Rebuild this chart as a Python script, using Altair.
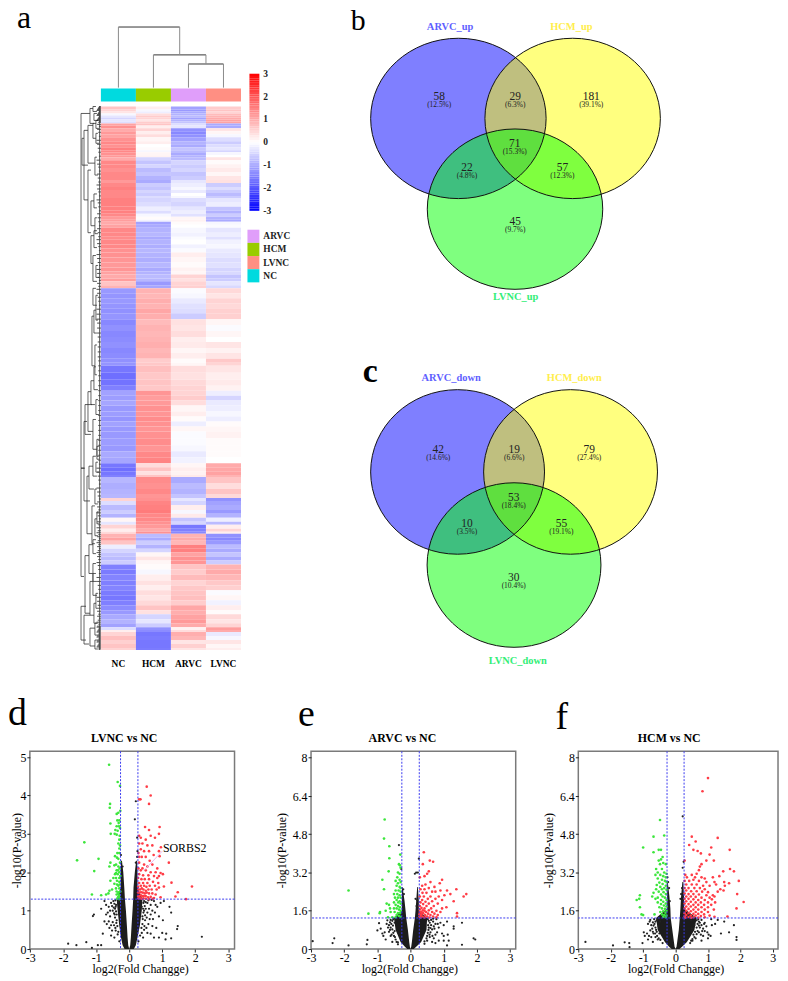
import altair as alt
import pandas as pd

SERIF = "Liberation Serif"
groups = ["NC", "HCM", "ARVC", "LVNC"]
group_colors = {"NC": "#00DADF", "HCM": "#99CC00", "ARVC": "#E09EFA", "LVNC": "#FF8F83"}
legend_order = ["ARVC", "HCM", "LVNC", "NC"]

heat_rows = [
 (0,.7,.2,-1.1,.6),(3,.5,-.1,-1.2,.7),(5,.3,-.2,-1.0,.5),(7,-.1,.4,-.9,.8),(9,-.3,.6,-.8,.9),(11,-.5,.5,-1.1,1.0),(13,-.3,.3,-.9,1.1),(15,-.4,.6,-.7,1.1),
 (17,1.1,.7,-.4,-1.0),(19,1.3,.2,-.3,-1.0),(22,1.0,.5,-1.3,.3),(25,1.2,.2,-1.4,.1),(28,1.1,.4,-1.3,-.1),(31,1.3,.1,-1.1,-.4),(35,1.4,.2,-.9,-.6),(38,1.3,.0,-1.0,-.4),
 (41,1.5,.05,-.7,-.3),(44,1.4,-.1,-.8,-.5),(46,1.3,.1,-1.0,-.1),(49,1.2,.15,-.9,.0),(51,1.0,-.5,-.8,.3),(54,1.4,-.7,-.5,.05),(58,1.4,-.5,-.6,.15),
 (62,1.3,-.8,-.5,.25),(66,1.4,-.7,-.7,.1),(70,1.4,-.9,-.6,.3),(74,1.2,-1.0,-.3,.35),(77,1.4,-.6,-.2,-.6),(81,1.5,-.7,-.1,-.4),(84,1.4,-.5,-.25,-.6),
 (87,1.4,-.6,.0,-.8),(90,1.4,-.4,-.1,-.6),(92,1.5,-.5,-.4,-.3),(96,1.5,-.4,-.5,-.2),(101,1.5,-.2,-.3,-.7),(105,1.5,-.4,-.2,-.9),(108,1.4,-.1,-.35,-.6),
 (111,1.2,.05,.1,-.9),(114,1.15,-.15,.15,-1.0),(116,1.0,-1.1,.05,-.1),(119,1.1,-1.0,.0,-.05),(122,1.4,-.9,-.1,-.3),(127,1.4,-.85,-.15,-.2),(131,1.35,-1.0,-.05,-.35),
 (134,1.4,-.9,.0,-.15),(139,1.4,-.95,-.15,-.1),(143,1.3,-.85,-.05,-.25),(147,1.3,-.9,.2,-.3),(152,1.25,-.95,.1,-.4),(157,1.2,-.85,.05,-.35),(162,1.25,-1.0,.15,-.5),
 (166,1.1,-.9,.1,-.45),(169,1.0,-.8,.5,-.7),(173,1.15,-.85,.35,-.6),(176,.7,-1.2,.5,-.3),(180,.9,-1.05,.55,-.45),
 (183,-1.2,.9,-.05,.45),(188,-1.25,.85,-.1,.3),(193,-1.2,.95,-.25,.5),(198,-1.25,.9,-.35,.45),(203,-1.3,1.05,-.4,.55),(208,-1.25,.95,-.6,.55),(214,-1.4,.8,.35,.1),
 (220,-1.3,.9,.3,-.05),(226,-1.4,.85,.4,.1),(232,-1.35,.9,.2,.0),(237,-1.3,.95,.25,.3),(243,-1.4,.85,.1,.15),(248,-1.35,.9,.2,.3),(254,-1.3,.6,.05,.65),
 (258,-1.25,.65,.1,.5),(261,-1.6,.75,.4,.3),(268,-1.7,.65,.35,.2),(275,-1.65,.7,.45,.25),(281,-1.5,.65,.5,.15),(286,-1.1,1.25,.5,-.2),(291,-1.15,1.15,.6,-.5),
 (296,-1.05,1.2,.4,-.25),(301,-1.2,1.3,.1,-.2),(307,-1.15,1.25,.2,-.1),(312,-1.25,1.35,.05,-.2),(317,-1.1,1.3,-.2,.05),(322,-1.2,1.25,.1,.1),(327,-1.2,1.3,-.05,.15),
 (334,-1.15,1.35,-.05,.05),(341,-1.2,1.25,-.1,.05),(347,-1.0,1.4,-.25,.05),(353,-1.05,1.45,-.15,.0),(359,-1.6,.4,.1,1.0),(363,-1.7,.7,.2,1.05),(367,-1.6,.35,.15,1.1),(371,-1.5,.7,.25,.9),
 (373,-.85,1.35,-1.0,.7),(379,-.95,1.3,-.8,.4),(385,-.9,1.4,-.9,.7),(390,-.85,1.25,-.7,.45),(394,.5,1.3,-.3,-1.3),(397,-.4,1.45,-.5,-1.1),(401,-.8,1.5,.2,-1.0),
 (406,-.6,1.55,-.1,-1.2),(410,-.9,1.4,.25,-.9),(414,.1,1.4,-.7,-.2),(418,-.3,1.3,-.5,-.8),(421,.5,1.2,-1.6,.2),(425,.2,1.0,-1.5,.5),(428,.45,1.3,-1.4,.2),
 (430,.9,-.8,.9,-1.3),(434,1.1,-1.0,1.0,-1.4),(437,.7,-.6,.85,-1.2),(441,-.2,-.9,1.5,-.8),(445,-.5,-.5,1.5,-1.0),(449,-.7,.1,1.1,-.7),(453,-.8,.3,1.3,-1.0),(457,-.6,.1,1.25,-.6),
 (461,-1.5,.05,.7,.9),(466,-1.55,-.1,.6,1.0),(471,-1.45,.2,.8,.85),(477,-1.5,.35,.5,.65),(482,-1.45,.2,.65,.55),(487,-1.55,.4,.7,-.05),(492,-1.6,.3,.75,.1),(497,-1.5,.45,.6,-.15),
 (502,-1.35,.7,1.05,.2),(507,-1.2,.35,.95,.05),(511,-1.0,-.5,1.1,.45),(516,-.9,-.3,1.2,.3),(520,-1.1,-.6,1.0,.5),(524,-.4,-1.3,.15,1.15),(527,.2,-1.35,.4,1.0),
 (529,.5,-1.6,.95,-.25),(533,.75,-1.55,.85,-.1),(537,.55,-1.6,.3,.3),(541,.7,-1.6,.55,.1),(545,.5,-1.55,.3,.2),
]
heat_end = 547

cbar_levels = [round(-3 + i * 0.1, 1) for i in range(61)]
cbar_ticks = [3, 2, 1, 0, -1, -2, -3]

col_links = [(2.5, 3.5, .39, 0, 0), (1.5, 3.0, .54, 0, .39), (.5, 2.25, 1.0, 0, .54)]

row_brackets = [
 (20,7,364,11,16),(11,2,17,8,7),(8,0,5,5,4),(7,7,14,4,3),(19,32,59,17,13),(17,24,94,13,13),(13,19,57,8,6),(8,17,32,5,5),(5,14,22,3,2),(5,27,37,3,2),
 (6,51,69,4,3),(13,64,127,10,10),(10,95,120,7,6),(7,88,102,4,4),(6,112,128,4,3),(10,130,158,7,8),(7,125,142,4,4),(8,150,176,5,4),(5,160,172,3,2),
 (8,183,200,5,4),(9,211,261,7,6),(7,205,228,5,4),(6,240,270,4,4),(5,190,215,3,3),(16,300,330,9,10),(13,287,327,10,8),(10,276,300,7,6),(8,315,345,5,4),
 (7,262,285,5,3),(5,295,310,3,2),(4,335,355,2,2),
 (20,364,473,17,17),(17,317,397,14,11),(14,372,430,12,9),(12,362,385,8,7),(9,402,440,6,6),(8,352,372,5,4),(6,385,400,4,3),(6,415,432,4,3),
 (20,503,537,15,15),(16,452,510,12,11),(12,441,470,8,8),(8,436,450,5,5),(8,460,478,5,4),(11,478,512,8,7),(8,470,492,5,4),(7,500,520,5,4),
 (17,512,541,11,12),(11,525,543,6,6),(6,520,532,3,3),(6,537,546,3,3),(5,490,505,3,2),(5,358,368,3,2),(4,342,352,2,2),(4,408,420,2,2),
]
leaf_rows = [0,1,2,3,4,5,6,7,8,9,10,11,12,13,14,15,16,18,20,23,26,30,34,38,42,46,50,54,58,61,65,68,72,76,79,83,86,90,94,97,101,105,108,112,116,120,123,127,131,134,138,141,145,149,153,157,160,164,168,172,175,178,181,184,188,192,196,200,204,209,214,218,223,228,232,237,242,247,252,256,261,266,271,276,281,286,291,296,301,306,311,316,321,326,331,336,341,346,351,356,360,364,368,372,376,380,384,388,392,395,398,400,403,406,409,412,415,418,421,424,427,429,431,433,435,437,439,441,443,445,447,449,451,453,456,459,462,466,470,474,478,482,486,490,494,498,502,505,508,511,513,515,517,519,521,523,524,525,526,527,528,529,530,531,532,533,534,535,536,537,538,539,540,541,542,543,544,545,546]

venn_up_names = ["ARVC_up", "HCM_up", "LVNC_up"]
venn_up_counts = [58, 29, 181, 71, 22, 57, 45]
venn_up_pcts = ["(12.5%)", "(6.3%)", "(39.1%)", "(15.3%)", "(4.8%)", "(12.3%)", "(9.7%)"]
venn_down_names = ["ARVC_down", "HCM_down", "LVNC_down"]
venn_down_counts = [42, 19, 79, 53, 10, 55, 30]
venn_down_pcts = ["(14.6%)", "(6.6%)", "(27.4%)", "(18.4%)", "(3.5%)", "(19.1%)", "(10.4%)"]

lvnc_green = [(-.61,4.8),(-.35,4.35),(-.28,4.25),(-.58,3.78),(-.59,3.68),(-.27,3.6),(-.33,3.55),(-.38,3.52),(-.3,3.35),(-.36,3.35),(-.32,3.28),(-.57,3.27),(-.38,3.2),(-.31,3.2),(-.28,3.15),(-.42,3.1),(-.35,3.08),(-.56,3.0),(-.44,3.0),(-.38,2.98),(-.29,2.95),(-.3,2.85),(-.33,2.75),(-.28,2.7),(-.3,2.62),(-.36,2.5),(-.3,2.5),(-.43,2.42),(-.37,2.38),(-.33,2.35),(-1.36,2.78),(-1.58,2.31),(-.93,2.35),(-1.06,2.03),(-.57,2.25),(-.6,2.15),(-.45,2.18),(-.4,2.2),(-.33,2.15),(-.29,2.1),(-.38,2.05),(-.3,2.0),(-.43,1.95),(-.35,1.95),(-.48,1.85),(-.4,1.85),(-.3,1.85),(-.57,1.78),(-.37,1.78),(-.3,1.75),(-.45,1.7),(-.37,1.68),(-.33,1.65),(-.52,1.55),(-.4,1.58),(-.3,1.58),(-.6,1.52),(-.38,1.5),(-.32,1.48),(-1.13,1.42),(-.85,1.4),(-.7,1.42),(-.63,1.45),(-.38,1.42),(-.3,1.4),(-.34,1.35),(-.28,1.33),(-.3,1.3),(-.36,1.31),(-.33,1.45),(-.27,1.5),(-.29,1.68),(-.27,1.9),(-.34,2.05),(-.28,2.25),(-.4,1.98),(-.31,1.38)]
lvnc_red = [(.53,4.23),(.65,4.0),(.6,3.78),(.3,3.9),(.34,3.9),(.48,3.18),(.92,3.18),(.6,3.1),(.9,3.0),(.3,2.95),(.35,2.9),(.5,2.85),(.65,2.95),(.78,2.9),(.3,2.75),(.4,2.75),(.55,2.7),(.7,2.7),(.96,2.65),(.35,2.6),(.28,2.5),(.45,2.55),(.6,2.55),(.9,2.55),(.74,2.45),(.92,2.42),(.3,2.4),(.38,2.4),(.5,2.4),(.62,2.3),(1.2,2.25),(.3,2.25),(.45,2.2),(.4,2.1),(.55,2.15),(.7,2.2),(.85,2.1),(.28,2.1),(.35,2.05),(.5,2.05),(.65,2.0),(.8,2.0),(.95,1.98),(1.02,1.95),(.9,1.9),(.75,1.9),(.58,1.92),(.42,1.92),(.3,1.95),(.27,1.85),(.37,1.82),(.47,1.82),(.6,1.82),(.85,1.85),(1.28,1.73),(1.05,1.63),(.88,1.72),(.72,1.75),(.55,1.72),(.42,1.72),(.3,1.72),(.27,1.62),(.35,1.65),(.45,1.65),(.52,1.62),(.62,1.65),(.78,1.65),(.9,1.6),(.28,1.55),(.33,1.55),(.38,1.58),(.43,1.55),(.5,1.52),(.58,1.55),(.68,1.55),(.83,1.55),(.27,1.47),(.31,1.47),(.36,1.48),(.41,1.47),(.47,1.45),(.53,1.47),(.6,1.45),(.7,1.45),(.8,1.42),(1.47,1.48),(1.4,1.37),(1.9,1.63),(1.72,1.3),(.27,1.38),(.31,1.38),(.35,1.4),(.39,1.38),(.44,1.38),(.5,1.38),(.57,1.35),(.65,1.36),(.75,1.33),(.95,1.35),(.28,1.32),(.33,1.32),(.38,1.31),(.43,1.32),(.5,1.31),(.6,1.3),(.71,1.31)]
lvnc_black = [(-1.85,.14),(-1.6,.1),(-1.3,.18),(-1.13,.03),(-1.1,.86),(-1.07,.9),(-.95,.1),(-.85,.1),(2.2,.32),(1.47,.6),(1.45,.52),(1.27,.28),(1.1,.25),(1.0,.42),(1.12,.4),(1.27,.95),(1.22,1.1),(.2,3.85),(.17,3.38),(-.28,2.5),(-.25,2.45),(.24,2.9),(.25,2.55),(.24,2.4),(.2,2.25),(-.2,2.15),(-.75,1.25),(-.7,1.15),(-.62,1.1),(-.55,1.2),(-.48,1.25),(-.85,1.05),(-.65,.95),(-.58,.85),(-.5,1.0),(-.44,.9),(-.75,.72),(-.68,.65),(-.6,.55),(-.5,.7),(-.42,.55),(-.8,.4),(-.55,.35),(-.45,.3),(-.38,.75),(-.4,1.15),(.45,1.25),(.55,1.2),(.65,1.15),(.75,1.25),(.85,1.1),(.95,1.2),(1.05,1.25),(.45,1.0),(.55,.95),(.65,.9),(.78,.95),(.9,.85),(1.02,.75),(.48,.75),(.58,.65),(.7,.6),(.82,.55),(.45,.5),(.55,.42),(.65,.4),(.75,.3),(.9,.3),(.4,.85),(.42,.3),(-.33,.45),(.33,.35),(-.3,.2),(.28,.2),(.38,1.1),(-.43,1.05),(-.33,1.22),
 (-.42,1.27),(-.45,1.18),(-.41,1.1),(-.47,1.08),(-.4,.98),(-.46,.93),(-.38,.9),(-.43,.82),(-.39,.68),(-.46,.62),(-.36,.6),(-.41,.48),(-.35,.38),(-.52,.48),(-.58,1.0),(-.62,.72),(-.55,.62),(-.7,.9),(-.52,1.12),(.43,1.2),(.47,1.12),(.42,1.05),(.5,1.05),(.43,.95),(.48,.88),(.41,.78),(.53,.82),(.4,.65),(.46,.6),(.37,.55),(.52,.55),(.38,.42),(.6,1.05),(.7,1.0),(.62,.78),(.72,.78),(.8,1.15),(.58,1.27),(.68,1.28),(.5,1.22)]
arvc_green = [(-.78,5.42),(-.8,4.62),(-.64,4.3),(-.64,3.8),(-.31,3.95),(-.35,3.55),(-.32,3.5),(-.3,3.4),(-.66,3.25),(-.38,3.2),(-.33,3.15),(-.85,2.9),(-.4,3.0),(-.33,2.9),(-.45,2.85),(-.3,2.8),(-.8,2.5),(-1.87,2.45),(-.38,2.75),(-.42,2.65),(-.33,2.6),(-.3,2.55),(-.45,2.45),(-.36,2.45),(-.3,2.4),(-.5,2.3),(-.4,2.3),(-.33,2.25),(-.47,2.15),(-.38,2.15),(-.3,2.15),(-.42,2.05),(-.33,2.0),(-.5,1.95),(-.37,1.95),(-.3,1.9),(-.72,1.9),(-.65,1.85),(-.45,1.85),(-.38,1.8),(-.32,1.75),(-.62,1.7),(-.5,1.7),(-.42,1.7),(-.35,1.65),(-.3,1.6),(-.75,1.6),(-.92,1.55),(-.93,1.5),(-.6,1.55),(-.48,1.55),(-.38,1.5),(-.32,1.5),(-1.27,1.48),(-.42,1.42),(-.35,1.38),(-.3,1.35),(-.68,1.33),(-.55,1.33),(-.45,1.33)]
arvc_red = [(.4,4.05),(.37,3.55),(.58,3.7),(.68,3.65),(.55,3.25),(.5,3.15),(.42,3.05),(.28,3.0),(.95,2.9),(.88,2.75),(.6,2.8),(.45,2.7),(.35,2.65),(.72,2.6),(.55,2.55),(.42,2.5),(.3,2.5),(1.38,2.5),(1.1,2.45),(.9,2.45),(.75,2.4),(.65,2.4),(.48,2.35),(.36,2.35),(1.2,2.3),(1.68,2.3),(1.6,2.2),(1.02,2.25),(.85,2.2),(.6,2.2),(.4,2.2),(.28,2.2),(.75,2.1),(.52,2.1),(.35,2.05),(.95,2.05),(1.3,2.0),(.65,2.0),(.45,1.98),(.3,1.95),(.82,1.9),(.55,1.9),(.38,1.88),(.28,1.8),(.7,1.8),(.48,1.8),(.33,1.72),(.95,1.7),(1.08,1.75),(.62,1.7),(.42,1.7),(.28,1.65),(.55,1.62),(.37,1.62),(.78,1.6),(.28,1.55),(.33,1.55),(.47,1.55),(.65,1.55),(.9,1.55),(.38,1.5),(.27,1.46),(.53,1.48),(.72,1.48),(1.4,1.5),(.31,1.42),(.44,1.42),(.6,1.42),(.82,1.42),(.27,1.36),(.36,1.36),(.5,1.36),(.68,1.36),(.78,1.33),(1.4,1.36),(.3,1.32),(.42,1.32),(.57,1.32),(.33,1.47),(.42,1.6)]
arvc_black = [(-2.95,.33),(-2.3,.45),(-2.35,.25),(-1.87,.15),(-1.3,.38),(-1.32,.2),(-.95,1.08),(-.9,.85),(-.85,.65),(-.82,.55),(-.75,.4),(-.7,1.2),(-.65,1.0),(-.62,.8),(-.6,.55),(-.55,.3),(-.52,1.25),(-.35,4.35),(.25,3.78),(.22,3.2),(.17,3.2),(.13,3.15),(-.28,3.35),(-.22,2.5),(-.2,2.3),(.2,2.05),(.15,2.1),(.18,1.8),(.9,1.1),(1.0,1.0),(.85,.9),(1.1,1.15),(1.3,.95),(1.55,1.1),(1.3,.85),(1.12,.6),(.95,.65),(.8,.7),(.72,.85),(.68,1.15),(.62,1.0),(.6,.7),(.58,.5),(.7,.45),(.85,.35),(1.0,.55),(1.15,.35),(1.9,.45),(1.95,.4),(1.55,.18),(1.1,.15),(1.0,.35),(.75,.25),(-.48,1.1),(-.48,.75),(-.45,.4),(.52,1.25),(.55,.9),(.5,.35),(.42,.22),(-.38,.2),(-1.0,.78),(-.78,.7),(.78,1.25),(.65,.3),
 (-.55,1.18),(-.58,1.05),(-.53,.98),(-.6,.9),(-.55,.82),(-.52,.68),(-.57,.6),(-.5,.55),(-.47,.5),(-.65,.72),(-.68,.9),(-.72,1.05),(-.42,.3),(-.38,.28),(-.6,1.22),(-.62,1.12),(.55,1.18),(.58,1.1),(.53,1.0),(.6,.88),(.54,.8),(.52,.68),(.57,.6),(.5,.55),(.48,.45),(.65,.82),(.7,.95),(.75,1.05),(.42,.32),(.66,.55),(.62,1.22),(.68,1.27),(.82,1.05),(.75,.6)]
hcm_green = [(-.48,5.4),(-.68,4.7),(-.35,4.75),(-1.0,4.25),(-.52,4.15),(-.45,4.15),(-.68,4.05),(-.4,3.85),(-.45,3.75),(-.52,3.7),(-.38,3.6),(-.48,3.55),(-.3,3.55),(-.6,3.35),(-.42,3.35),(-.55,3.2),(-.35,3.2),(-.28,3.15),(-.62,3.1),(-.47,3.1),(-.38,3.05),(-.3,3.0),(-.55,2.95),(-.42,2.9),(-.33,2.85),(-.28,2.8),(-.5,2.78),(-.4,2.72),(-.58,2.68),(-.3,2.65),(-.47,2.6),(-.35,2.55),(-.6,2.5),(-.42,2.5),(-.28,2.48),(-.52,2.4),(-.37,2.38),(-.68,2.35),(-.3,2.3),(-.45,2.28),(-.72,2.2),(-.4,2.2),(-1.1,2.25),(-1.12,2.1),(-1.2,2.05),(-.55,2.15),(-.33,2.15),(-.62,2.1),(-.45,2.05),(-.28,2.05),(-.38,1.98),(-.55,1.95),(-.3,1.9),(-.45,1.88),(-.36,1.82),(-.28,1.78),(-.5,1.75),(-1.1,1.75),(-.42,1.7),(-.33,1.68),(-.28,1.6),(-.38,1.58),(-.47,1.55),(-.31,1.52),(-.42,1.45),(-.35,1.42),(-.28,1.4),(-1.05,1.45),(-1.0,1.42),(-.65,1.45),(-.38,1.35),(-.3,1.33)]
hcm_red = [(1.0,7.15),(.83,6.6),(.5,4.7),(1.3,4.65),(.62,4.5),(.42,4.35),(1.1,4.25),(.55,4.15),(.68,4.1),(1.67,4.15),(.78,4.0),(1.05,3.95),(.95,3.7),(1.18,3.7),(.28,3.7),(.8,3.55),(.75,3.45),(1.68,3.35),(1.8,3.25),(1.47,3.25),(.72,3.3),(.65,3.15),(.5,3.1),(.3,3.1),(.35,3.0),(.6,3.0),(.8,3.0),(.9,2.95),(1.15,3.0),(1.35,3.05),(.28,2.85),(.42,2.85),(.55,2.9),(.72,2.85),(.95,2.8),(1.2,2.8),(1.5,2.8),(1.95,2.85),(1.52,2.65),(1.65,2.75),(.33,2.7),(.5,2.7),(.65,2.7),(.85,2.65),(1.05,2.65),(1.25,2.7),(.28,2.55),(.4,2.55),(.58,2.55),(.75,2.55),(.9,2.5),(1.38,2.5),(1.48,2.45),(.33,2.45),(.48,2.42),(.65,2.42),(.82,2.4),(1.0,2.38),(1.3,2.4),(1.9,2.3),(.28,2.32),(.4,2.3),(.55,2.3),(.72,2.28),(.95,2.25),(1.15,2.25),(.33,2.2),(.47,2.2),(.62,2.18),(.8,2.15),(1.05,2.15),(1.2,2.2),(.28,2.1),(.4,2.1),(.55,2.08),(.7,2.05),(.9,2.05),(1.12,2.08),(2.1,1.97),(.33,2.0),(.47,1.98),(.62,1.95),(.78,1.95),(1.0,1.95),(1.22,1.95),(.28,1.9),(.4,1.88),(.55,1.85),(.7,1.85),(.88,1.85),(1.1,1.85),(.33,1.78),(.47,1.78),(.62,1.75),(.8,1.75),(1.0,1.75),(.28,1.7),(.4,1.68),(.55,1.65),(.7,1.65),(.9,1.65),(1.18,1.65),(1.88,1.7),(.33,1.6),(.47,1.58),(.62,1.55),(.8,1.55),(1.0,1.55),(.28,1.5),(.4,1.5),(.55,1.47),(.7,1.47),(.88,1.45),(.33,1.42),(.47,1.4),(.62,1.4),(.78,1.38),(1.05,1.4),(1.2,1.35),(1.6,1.36),(.28,1.36),(.4,1.34),(.55,1.33),(.7,1.32),(.9,1.33),(.3,1.31),(.48,1.31)]
hcm_black = [(-2.78,.3),(-1.93,.15),(-1.57,.28),(-1.43,.25),(-1.42,.08),(-1.02,.25),(-.98,.7),(-.95,.55),(-.88,.65),(-.85,.4),(-.82,.55),(-.8,1.15),(-.75,.5),(-.72,.85),(-.7,.3),(-.68,.65),(-.65,1.05),(-.62,.5),(-.6,.8),(-.58,1.2),(-.55,.4),(-.52,.95),(-.5,.65),(-.48,1.15),(.22,5.55),(.25,3.65),(.22,3.4),(-.25,3.0),(-.23,2.8),(-.2,2.55),(.2,2.55),(.17,2.3),(.15,2.1),(-.18,2.0),(1.1,1.25),(1.3,1.22),(1.5,1.15),(1.12,1.0),(1.22,1.05),(1.8,1.0),(1.65,.7),(1.4,.65),(1.02,.6),(1.08,.55),(1.88,.5),(1.88,.38),(.98,.7),(.85,.85),(.9,1.1),(.72,1.15),(.75,.9),(.78,.6),(.65,1.2),(.68,.75),(.62,.45),(.58,1.0),(.55,.6),(.52,.35),(.8,.35),(.5,.85),(.48,1.2),(.45,.25),(-.4,.25),(1.0,.45),
 (-.66,1.25),(-.7,1.12),(-.62,1.15),(-.75,1.0),(-.68,.98),(-.62,.9),(-.78,.78),(-.7,.72),(-.63,.65),(-.58,.72),(-.57,.55),(-.52,.45),(-.47,.38),(-.78,1.22),(-.85,1.05),(.7,1.25),(.75,1.1),(.68,1.05),(.8,1.0),(.72,.98),(.65,.9),(.82,.75),(.72,.7),(.65,.62),(.6,.72),(.58,.5),(.52,.42),(.48,.35),(.8,1.22),(.88,1.05),(.95,.95),(.9,.75),(.85,.55)]

def pts(values, kind):
    return pd.DataFrame([{"x": a, "y": b, "kind": kind} for a, b in values])

core_lvnc = {"y": [0, .1, .3, .6, 1.0, 1.3, 1.6, 2.0, 2.3],
             "l_out": [-.14, -.2, -.25, -.3, -.35, -.38, -.26, -.26, -.25], "l_in": [0, -.03, -.05, -.07, -.1, -.13, -.15, -.18, -.22],
             "r_in": [0, .03, .05, .07, .1, .12, .13, .17, .21], "r_out": [.14, .2, .25, .32, .38, .4, .25, .25, .24]}
core_arvc = {"y": [0, .1, .3, .8, 1.3, 1.6, 2.0, 2.6],
             "l_out": [-.1, -.17, -.3, -.45, -.5, -.26, -.26, -.26], "l_in": [0, -.02, -.04, -.08, -.13, -.15, -.18, -.24],
             "r_in": [0, .02, .04, .08, .13, .15, .17, .2], "r_out": [.1, .17, .32, .48, .5, .25, .25, .22]}
core_hcm = {"y": [0, .1, .3, .8, 1.3, 1.7, 2.2, 2.8],
            "l_out": [-.12, -.2, -.33, -.55, -.6, -.26, -.26, -.26], "l_in": [0, -.03, -.05, -.1, -.15, -.16, -.19, -.24],
            "r_in": [0, .03, .05, .1, .13, .15, .17, .21], "r_out": [.12, .2, .35, .58, .65, .26, .26, .24]}

x_ticks = [-3, -2, -1, 0, 1, 2, 3]
d_y_ticks = [0, 1, 2, 3, 4, 5]
ef_y_ticks = [0, 1.6, 3.2, 4.8, 6.4, 8]


def volcano(title, dx, green, red, black, core, xdom, ydom, yticks, xtitle_x, ytpad, extra=None, w=206):
    xs = alt.Scale(domain=xdom, nice=False, zero=False)
    ys = alt.Scale(domain=ydom, nice=False, zero=False)
    xax = alt.Axis(values=x_ticks, grid=False, domain=False, tickSize=3, tickColor="#222", labelFont=SERIF, labelFontSize=12,
                   labelColor="black", labelPadding=1, labelFlush=False, labelOverlap=False, labelExpr="'' + datum.value",
                   title="log2(Fold Changge)", titleFont=SERIF, titleFontSize=12, titleFontWeight="normal", titleColor="black",
                   titlePadding=0, titleX=xtitle_x)
    yax = alt.Axis(values=yticks, grid=False, domain=False, tickSize=3, tickColor="#222", labelFont=SERIF, labelFontSize=12,
                   labelColor="black", labelPadding=1, labelFlush=False, labelOverlap=False, labelExpr="'' + datum.value",
                   title="-log10(P-value)", titleFont=SERIF, titleFontSize=12, titleFontWeight="normal", titleColor="black",
                   titlePadding=ytpad)
    X = lambda f="x": alt.X(f"{f}:Q", scale=xs, axis=xax)
    Y = lambda f="y": alt.Y(f"{f}:Q", scale=ys, axis=yax)
    cdf = pd.DataFrame(core)
    layers = [
        alt.Chart(cdf).mark_area(orient="horizontal", color="#1c1c1c").encode(x=X("l_out"), x2="l_in:Q", y=Y()),
        alt.Chart(cdf).mark_area(orient="horizontal", color="#1c1c1c").encode(x=X("r_in"), x2="r_out:Q", y=Y()),
        alt.Chart(pts(black, "n")).mark_circle(size=5, color="#222222", opacity=1).encode(x=X(), y=Y()),
        alt.Chart(pts(green, "g")).mark_circle(size=7, color="#3CE63C", opacity=1).encode(x=X(), y=Y()),
        alt.Chart(pts(red, "r")).mark_circle(size=7, color="#FF3C46", opacity=1).encode(x=X(), y=Y()),
        alt.Chart(pd.DataFrame({"v": [-.263, .263]})).mark_rule(color="#3A3AF0", strokeDash=[2, 1.5], strokeWidth=1).encode(x=alt.X("v:Q", scale=xs, axis=xax)),
        alt.Chart(pd.DataFrame({"h": [1.3]})).mark_rule(color="#3A3AF0", strokeDash=[2, 1.5], strokeWidth=1).encode(y=alt.Y("h:Q", scale=ys, axis=yax)),
    ]
    if extra is not None:
        layers += [
            alt.Chart(pd.DataFrame({"x": [.45], "y": [2.05], "x2": [1.0], "y2": [2.55]})).mark_rule(color="#E8B8F0", strokeWidth=1).encode(
                x=X(), y=Y(), x2="x2:Q", y2="y2:Q"),
            alt.Chart(pd.DataFrame({"x": [1.02], "y": [2.62], "t": [extra]})).mark_text(align="left", baseline="middle", font=SERIF, fontSize=12, color="black").encode(
                x=X(), y=Y(), text="t:N"),
        ]
    return alt.layer(*layers).properties(
        width=w, height=199,
        title=alt.TitleParams(title, font=SERIF, fontSize=12, fontWeight="bold", color="black", dx=dx, offset=6),
        view=alt.ViewBackground(stroke="#7a7a7a", strokeWidth=1.5))


def px_text(rows, size, weight="normal", color="black", align="center", baseline="middle"):
    df = pd.DataFrame(rows, columns=["px", "py", "t"])
    return alt.Chart(df).mark_text(font=SERIF, fontSize=size, fontWeight=weight, color=color, align=align, baseline=baseline).encode(
        x=alt.X("px:Q", scale=None, axis=None), y=alt.Y("py:Q", scale=None, axis=None), text="t:N")

A_W, A_H = 313, 725
AX = 27
AY = 8
colx = alt.Scale(domain=[0, 4], range=[98.5 - AX, 239.5 - AX], nice=False, zero=False)
rowy = alt.Scale(domain=[0, heat_end], range=[106 - AY, 653 - AY], nice=False, zero=False)
heat_color = alt.Scale(domain=[-3, 0, 3], range=["#0000FF", "#FFFFFF", "#FF0000"], interpolate="rgb")
hx = alt.Scale(domain=[0, 20], range=[98.5 - AX, 78.5 - AX], nice=False, zero=False)
hy = alt.Scale(domain=[0, 1], range=[87 - AY, 26 - AY], nice=False, zero=False)
cy = alt.Scale(domain=[-3, 3], range=[211 - AY, 73 - AY], nice=False, zero=False)
cx = alt.Scale(domain=[0, 1], range=[248 - AX, 258 - AX], nice=False, zero=False)

heat_records = []
for i, r in enumerate(heat_rows):
    end = heat_rows[i + 1][0] if i + 1 < len(heat_rows) else heat_end
    for j, g in enumerate(groups):
        heat_records.append({"c0": j, "c1": j + 1, "r0": r[0], "r1": end, "v": r[j + 1]})
heat_df = pd.DataFrame(heat_records)
heat = alt.Chart(heat_df).mark_rect().encode(
    x=alt.X("c0:Q", scale=colx, axis=None), x2="c1:Q",
    y=alt.Y("r0:Q", scale=rowy, axis=None), y2="r1:Q",
    color=alt.Color("v:Q", scale=heat_color, legend=None))

strip_df = pd.DataFrame([{"c0": j, "c1": j + 1, "a": 0, "b": 1, "col": group_colors[g]} for j, g in enumerate(groups)])
strip_y = alt.Scale(domain=[0, 1], range=[101 - AY, 88 - AY], nice=False, zero=False)
strip = alt.Chart(strip_df).mark_rect().encode(
    x=alt.X("c0:Q", scale=colx, axis=None), x2="c1:Q",
    y=alt.Y("a:Q", scale=strip_y, axis=None), y2="b:Q",
    color=alt.Color("col:N", scale=None, legend=None))

col_h = pd.DataFrame([{"x0": l[0], "x1": l[1], "h": l[2]} for l in col_links])
col_v = pd.DataFrame([{"x": l[0], "h": l[2], "h0": l[3]} for l in col_links] + [{"x": l[1], "h": l[2], "h0": l[4]} for l in col_links])
col_dh = alt.Chart(col_h).mark_rule(color="#333333", strokeWidth=1).encode(
    x=alt.X("x0:Q", scale=colx, axis=None), x2="x1:Q", y=alt.Y("h:Q", scale=hy, axis=None))
col_dv = alt.Chart(col_v).mark_rule(color="#8a8a8a", strokeWidth=1).encode(
    x=alt.X("x:Q", scale=colx, axis=None), y=alt.Y("h:Q", scale=hy, axis=None), y2="h0:Q")

br = pd.DataFrame(row_brackets, columns=["h", "top", "bot", "ht", "hb"])
br_v = alt.Chart(br).mark_rule(color="#555555", strokeWidth=.9).encode(
    x=alt.X("h:Q", scale=hx, axis=None), y=alt.Y("top:Q", scale=rowy, axis=None), y2="bot:Q")
br_t = alt.Chart(br).mark_rule(color="#333333", strokeWidth=.8).encode(
    x=alt.X("h:Q", scale=hx, axis=None), x2="ht:Q", y=alt.Y("top:Q", scale=rowy, axis=None))
br_b = alt.Chart(br).mark_rule(color="#333333", strokeWidth=.8).encode(
    x=alt.X("h:Q", scale=hx, axis=None), x2="hb:Q", y=alt.Y("bot:Q", scale=rowy, axis=None))
leaf_df = pd.DataFrame({"r": leaf_rows, "h0": [0] * len(leaf_rows), "h1": [(r % 5) * .6 + 2 for r in leaf_rows]})
leaf = alt.Chart(leaf_df).mark_rule(color="#222222", strokeWidth=.8).encode(
    x=alt.X("h0:Q", scale=hx, axis=None), x2="h1:Q", y=alt.Y("r:Q", scale=rowy, axis=None))
spine = alt.Chart(pd.DataFrame({"h": [1.2], "a": [0], "b": [547]})).mark_rule(color="#444444", strokeWidth=1).encode(
    x=alt.X("h:Q", scale=hx, axis=None), y=alt.Y("a:Q", scale=rowy, axis=None), y2="b:Q")

cb_df = pd.DataFrame({"lo": cbar_levels[:-1], "hi": cbar_levels[1:], "v": [round(l + .05, 2) for l in cbar_levels[:-1]], "a": [0] * 60, "b": [1] * 60})
cbar = alt.Chart(cb_df).mark_rect().encode(
    x=alt.X("a:Q", scale=cx, axis=None), x2="b:Q",
    y=alt.Y("lo:Q", scale=cy, axis=None), y2="hi:Q",
    color=alt.Color("v:Q", scale=heat_color, legend=None))
cb_lab = alt.Chart(pd.DataFrame({"v": cbar_ticks, "t": [str(v) for v in cbar_ticks], "a": [1.4] * 7})).mark_text(
    align="left", baseline="middle", font=SERIF, fontSize=9.5, fontWeight="bold", color="#222").encode(
    x=alt.X("a:Q", scale=cx, axis=None), y=alt.Y("v:Q", scale=cy, axis=None), text="t:N")

lg_y = alt.Scale(domain=[0, 4], range=[230 - AY, 283 - AY], nice=False, zero=False)
lg_df = pd.DataFrame([{"p": i, "p1": i + 1, "a": -.2, "b": 1, "col": group_colors[g], "g": g, "m": i + .5, "tx": 1.4} for i, g in enumerate(legend_order)])
lg_rect = alt.Chart(lg_df).mark_rect().encode(
    x=alt.X("a:Q", scale=cx, axis=None), x2="b:Q",
    y=alt.Y("p:Q", scale=lg_y, axis=None), y2="p1:Q",
    color=alt.Color("col:N", scale=None, legend=None))
lg_txt = alt.Chart(lg_df).mark_text(align="left", baseline="middle", font=SERIF, fontSize=9.5, fontWeight="bold", color="#222").encode(
    x=alt.X("tx:Q", scale=cx, axis=None), y=alt.Y("m:Q", scale=lg_y, axis=None), text="g:N")

col_lab_y = alt.Scale(domain=[0, 1], range=[653 - AY, 673 - AY], nice=False, zero=False)
bottom_lab = alt.Chart(pd.DataFrame({"c": [.5, 1.5, 2.5, 3.5], "g": groups, "p": [.72] * 4})).mark_text(
    font=SERIF, fontSize=9.5, fontWeight="bold", color="black", baseline="middle").encode(
    x=alt.X("c:Q", scale=colx, axis=None), y=alt.Y("p:Q", scale=col_lab_y, axis=None), text="g:N")

letters_a = px_text([(14 - AX, 27 - AY, "a")], 32, align="left", baseline="alphabetic")
letters_de = px_text([(5 - AX, 729 - AY, "d"), (297 - AX, 730 - AY, "e")], 38, align="left", baseline="alphabetic")
edge_a = alt.Chart(pd.DataFrame({"px": [8 - AX], "py": [100]})).mark_point(opacity=0, size=1).encode(
    x=alt.X("px:Q", scale=None, axis=None), y=alt.Y("py:Q", scale=None, axis=None))

panel_a = alt.layer(edge_a, br_v, br_t, br_b, leaf, spine, heat, strip, col_dh, col_dv, cbar, cb_lab, lg_rect, lg_txt, bottom_lab, letters_a, letters_de).properties(
    width=A_W, height=A_H).resolve_scale(x="independent", y="independent", color="independent")


def ellipse_path(rx, ry):
    q = ry / rx
    return f"M-1,0 A1,{q:.4f} 0 1,1 1,0 A1,{q:.4f} 0 1,1 -1,0 Z"


def venn(names, counts, pcts, centres, rx_ry, count_pos, pct_offset, head_pos, letter, letter_size, letter_weight="normal"):
    rx, ry = rx_ry
    path = ellipse_path(rx, ry)
    size = (2 * rx) ** 2
    fills = ["#0000FF", "#FFFF00", "#00FF00"]
    layers = []
    for (c, f) in zip(centres, fills):
        df = pd.DataFrame({"px": [c[0]], "py": [c[1]]})
        layers.append(alt.Chart(df).mark_point(shape=path, filled=True, size=size, color=f, opacity=.5, strokeWidth=0).encode(
            x=alt.X("px:Q", scale=None, axis=None), y=alt.Y("py:Q", scale=None, axis=None)))
    cdf = pd.DataFrame({"px": [c[0] for c in centres], "py": [c[1] for c in centres]})
    layers.append(alt.Chart(cdf).mark_point(shape=path, filled=False, size=size, color="#111111", opacity=1, strokeWidth=1).encode(
        x=alt.X("px:Q", scale=None, axis=None), y=alt.Y("py:Q", scale=None, axis=None)))
    layers.append(px_text([(p[0], p[1], str(n)) for p, n in zip(count_pos, counts)], 11.5, color="#222"))
    layers.append(px_text([(p[0], p[1] + pct_offset, t) for p, t in zip(count_pos, pcts)], 7.5, color="#222"))
    for n, p, col in zip(names, head_pos, ["#5F5FFF", "#FFEE4D", "#33EE77"]):
        layers.append(px_text([(p[0], p[1], n)], 10.5, weight="bold", color=col))
    layers.append(px_text([letter], letter_size, weight=letter_weight, align="left", baseline="alphabetic"))
    return layers


OX, OY_B = 340, 8
to_b = lambda p: (p[0] - OX, p[1] - OY_B)
panel_b = alt.layer(*venn(venn_up_names, venn_up_counts, venn_up_pcts,
               [to_b((458.3, 118)), to_b((573.3, 118)), to_b((515.3, 209.3))], (88.3, 80.7),
               [to_b(p) for p in [(439, 96), (515.5, 96), (592, 96), (515, 143.5), (467, 168), (563, 168), (515.5, 222)]], 8,
               [to_b((450, 26)), to_b((572, 26)), to_b((516, 298))], (10, 21, "b"), 30)).properties(width=440, height=337)
OY_C = 345
to_c = lambda p: (p[0] - OX, p[1] - OY_C)
f_letter = px_text([(556 - OX, 733 - OY_C, "f")], 38, align="left", baseline="alphabetic")
panel_c = alt.layer(*venn(venn_down_names, venn_down_counts, venn_down_pcts,
               [to_c((457.5, 473.8)), to_c((571.2, 473.8)), to_c((514.3, 567.5))], (87.5, 82.8),
               [to_c(p) for p in [(438, 452), (514.5, 452), (590, 452), (514, 500), (467, 526), (562, 526), (514, 581)]], 8,
               [to_c((451, 379)), to_c((575, 379)), to_c((518, 664))], (22, 38, "c"), 34, "bold"), f_letter).properties(width=440, height=388)

panel_d = volcano("LVNC vs NC", -8, lvnc_green, lvnc_red, lvnc_black, core_lvnc, [-3.01, 3.19], [0, 5.15], d_y_ticks, 111, -4, extra="SORBS2")
panel_e = volcano("ARVC vs NC", -11, arvc_green, arvc_red, arvc_black, core_arvc, [-3.0, 3.17], [0, 8.27], ef_y_ticks, 99, 4)
panel_f = volcano("HCM vs NC", -9, hcm_green, hcm_red, hcm_black, core_hcm, [-3.0, 3.16], [0, 8.27], ef_y_ticks, 98, 4, w=201)

top = alt.hconcat(panel_a, alt.vconcat(panel_b, panel_c, spacing=0, bounds="flush"), spacing=0, bounds="flush")
bottom = alt.hconcat(panel_d, alt.hconcat(panel_e, panel_f, spacing=63, bounds="flush"), spacing=77, bounds="flush")
chart = alt.vconcat(top, bottom, spacing=-7).properties(padding={"top": -9, "left": 0, "right": 0, "bottom": 0}).configure_view(stroke=None)
chart.save("out.html", embed_options={"renderer": "svg", "actions": False})
